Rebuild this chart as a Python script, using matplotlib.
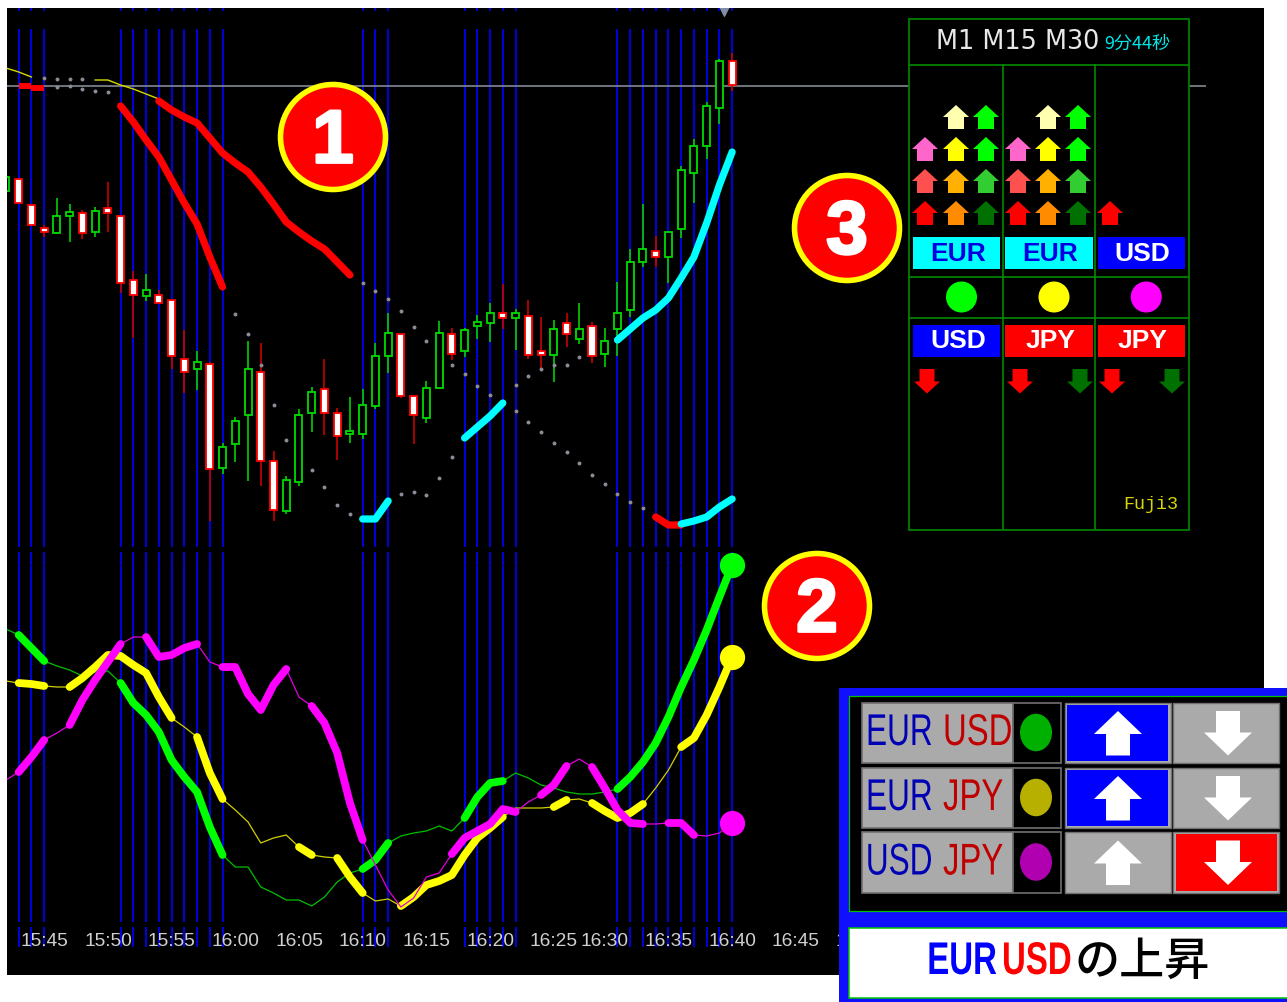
import matplotlib
matplotlib.use('Agg')
import matplotlib.pyplot as plt
import matplotlib.patheffects as pe
from matplotlib.patches import Circle, Ellipse, Polygon, Rectangle
from matplotlib.transforms import Affine2D

WIDTH, HEIGHT = 1287, 1002
BAR_X0, BAR_STEP = 18.7, 12.74

# Candles, in chart levels (small value = high on screen).
bars = list(range(-1, 57))
body_top = [177, 179, 205, 228, 216, 212, 213, 211, 208, 216, 280, 290, 295, 300, 359, 362, 364, 447, 421, 369,
            372, 461, 480, 415, 392, 389, 413, 431, 405, 356, 333, 334, 396, 388, 333, 334, 330, 322, 313, 313,
            313, 316, 351, 329, 323, 329, 326, 341, 313, 262, 249, 251, 232, 170, 146, 106, 61, 61]
body_bot = [191, 203, 225, 232, 233, 216, 233, 232, 213, 283, 295, 296, 303, 356, 372, 369, 469, 468, 444, 415,
            461, 510, 511, 482, 413, 413, 436, 434, 434, 406, 356, 396, 415, 418, 388, 354, 351, 326, 323, 318,
            318, 355, 355, 355, 334, 339, 356, 354, 329, 310, 262, 257, 257, 229, 173, 146, 108, 85]
wick_top = [177, 179, 205, 225, 198, 204, 210, 207, 182, 216, 271, 274, 290, 300, 330, 351, 362, 443, 417, 341,
            343, 451, 476, 409, 387, 359, 408, 397, 389, 343, 313, 334, 396, 381, 321, 328, 328, 315, 303, 284,
            309, 300, 317, 320, 313, 303, 322, 328, 282, 249, 204, 236, 232, 166, 139, 102, 59, 53]
wick_bot = [191, 203, 225, 237, 233, 242, 239, 237, 232, 293, 338, 301, 303, 369, 393, 390, 521, 474, 462, 481,
            486, 521, 514, 486, 432, 435, 460, 443, 439, 409, 373, 398, 444, 423, 388, 360, 357, 339, 342, 329,
            350, 359, 370, 382, 347, 344, 363, 367, 356, 317, 267, 267, 283, 238, 203, 159, 124, 91]
bullish = [1, 0, 0, 0, 1, 1, 0, 1, 0, 0, 0, 1, 0, 0, 0, 1, 0, 1, 1, 1,
           0, 0, 1, 1, 1, 0, 0, 1, 1, 1, 1, 0, 0, 1, 1, 0, 1, 1, 1, 0,
           1, 0, 0, 1, 0, 1, 0, 1, 1, 1, 1, 0, 1, 1, 1, 1, 1, 0]

# Blue marks on bars, gray level line
blue_bars = [0, 1, 2, 8, 9, 10, 11, 12, 13, 14, 15, 16, 27, 28, 29, 35, 36, 37, 38, 39,
             47, 48, 49, 50, 51, 52, 53, 54, 55, 56]
level_line = 85.5
level_line_end = 93.2
marker_bar = 55.4

# Overlay lines on the price window
yellow_a_bars = [-1, 0, 1]
yellow_a = [68, 72, 77]
yellow_b_bars = [6, 7, 8, 9, 10, 11]
yellow_b = [80, 80, 85, 89, 94, 99]
red_step_a_bars = [0, 1]
red_step_a = [85.5, 85.5]
red_step_b_bars = [1, 2]
red_step_b = [87.5, 87.5]
red_a_bars = list(range(8, 17))
red_a = [106, 122, 140, 157, 180, 203, 224, 257, 287]
red_b_bars = list(range(11, 27))
red_b = [101, 110, 117, 123, 138, 153, 163, 172, 187, 204, 222, 232, 241, 249, 262, 275]
red_c_bars = [50, 51, 52]
red_c = [517, 525, 525]
cyan_a_bars = [27, 28, 29]
cyan_a = [519, 519, 501]
cyan_b_bars = [35, 36, 37, 38]
cyan_b = [438, 427, 416, 403]
cyan_c_bars = list(range(47, 57))
cyan_c = [340, 329, 318, 310, 298, 278, 257, 223, 185, 152]
cyan_d_bars = [52, 53, 54, 55, 56]
cyan_d = [524, 521, 517, 507, 499]

# Gray dots on the price window
dot_bars = [2, 3, 4, 5, 3, 4, 5, 6, 7,
            17, 18, 19, 20, 21, 23, 24, 25, 26,
            27, 28, 29, 30, 31, 32, 34, 35, 36, 37, 38, 39, 40, 41, 42, 43, 44, 45, 46, 47, 48, 49,
            30, 31, 32, 33, 34,
            39, 40, 41, 42, 43, 44]
dot_levels = [78, 79, 79, 79, 87, 86, 89, 91, 92,
              314, 334, 365, 405, 440, 470, 487, 505, 514,
              283, 291, 299, 311, 327, 341, 365, 374, 386, 395, 403, 411, 422, 432, 443, 452, 463, 475, 484, 494,
              502, 508,
              494, 492, 495, 478, 457,
              385, 376, 369, 365, 365, 357]

# Strength lines on the lower window, bars 0 to 56 plus the cut off bar at the left
green_line = [629, 635, 648, 661, 666, 670, 676, 672, 671, 683, 703, 715, 732, 760, 777, 792, 827, 855, 867, 867,
              887, 893, 900, 900, 906, 897, 882, 873, 869, 860, 843, 836, 833, 831, 826, 831, 818, 797, 783, 781,
              773, 778, 785, 788, 792, 794, 794, 792, 789, 777, 762, 743, 717, 687, 660, 630, 597, 565]
yellow_line = [681, 683, 684, 686, 687, 687, 678, 667, 655, 656, 665, 673, 697, 718, 727, 737, 773, 799, 810, 822,
               843, 838, 835, 847, 855, 857, 858, 877, 893, 901, 899, 906, 897, 885, 881, 875, 855, 838, 828, 817,
               808, 808, 808, 807, 800, 799, 803, 811, 818, 813, 804, 788, 770, 747, 738, 715, 687, 657]
magenta_line = [780, 772, 757, 740, 733, 725, 700, 680, 662, 644, 637, 637, 657, 655, 648, 644, 662, 667, 667, 694,
                710, 685, 669, 697, 706, 723, 753, 803, 840, 865, 890, 907, 898, 877, 873, 854, 838, 831, 824, 809,
                812, 802, 795, 785, 766, 759, 767, 788, 810, 823, 824, 824, 823, 823, 835, 836, 833, 823]
green_thick = [(0, 2), (8, 16), (27, 29), (35, 38), (47, 56)]
yellow_thick = [(0, 2), (4, 12), (14, 16), (22, 23), (25, 27), (30, 38), (42, 43), (45, 49), (52, 56)]
magenta_thick = [(0, 2), (4, 8), (10, 14), (16, 21), (23, 27), (34, 39), (41, 43), (45, 49), (51, 53)]

# Time axis
time_bars = [2, 7, 12, 17, 22, 27, 32, 37, 42, 46, 51, 56, 61, 66]
time_labels = ['15:45', '15:50', '15:55', '16:00', '16:05', '16:10', '16:15', '16:20', '16:25', '16:30', '16:35',
               '16:40', '16:45', '16:50']

# Upper right table
up_arrows = [(956, 105, '#ffffb0'), (986, 105, '#00ff00'), (1048, 105, '#ffffb0'), (1078, 105, '#00ff00'),
             (925, 137, '#ff66cc'), (956, 137, '#ffff00'), (986, 137, '#00ff00'),
             (1018, 137, '#ff66cc'), (1048, 137, '#ffff00'), (1078, 137, '#00ff00'),
             (925, 169, '#ff5050'), (956, 169, '#ffb000'), (986, 169, '#32cd32'),
             (1018, 169, '#ff5050'), (1048, 169, '#ffb000'), (1078, 169, '#32cd32'),
             (925, 201, '#ff0000'), (956, 201, '#ff8c00'), (986, 201, '#007000'),
             (1018, 201, '#ff0000'), (1048, 201, '#ff8c00'), (1078, 201, '#007000'), (1110, 201, '#ff0000')]
down_arrows = [(927, '#ff0000'), (1020, '#ff0000'), (1080, '#007000'), (1112, '#ff0000'), (1172, '#007000')]
table_cols = [(913, 1000), (1005, 1093), (1097.5, 1185)]
base_names = ['EUR', 'EUR', 'USD']
base_faces = ['#00ffff', '#00ffff', '#0000ff']
base_texts = ['#0000e0', '#0000e0', '#ffffff']
quote_names = ['USD', 'JPY', 'JPY']
quote_faces = ['#0000ff', '#ff0000', '#ff0000']
table_dots = ['#00ff00', '#ffff00', '#ff00ff']

# Lower right panel
pair_base = ['EUR', 'EUR', 'USD']
pair_quote = ['USD', 'JPY', 'JPY']
pair_dots = ['#00b000', '#b8b000', '#b000b0']
pair_rows = [(702, 763), (767, 828), (831, 893)]
up_on = [True, True, False]
down_on = [False, False, True]

badges = [('1', 333, 137), ('2', 817, 606), ('3', 847, 228)]


class Squeeze(pe.AbstractPathEffect):
    """Narrow a text sideways around x0 (display pixels), the fonts here have no condensed face."""

    def __init__(self, x0, factor):
        super().__init__()
        self.x0 = x0
        self.factor = factor

    def draw_path(self, renderer, gc, tpath, affine, rgbFace=None):
        squeezed = affine + Affine2D().translate(-self.x0, 0).scale(self.factor, 1).translate(self.x0, 0)
        renderer.draw_path(gc, tpath, squeezed, rgbFace)


fig = plt.figure(figsize=(WIDTH / 100, HEIGHT / 100), dpi=100, facecolor='white')

# Chart window, x in bars
ax = fig.add_axes([7 / WIDTH, 1 - 975 / HEIGHT, (1264 - 7) / WIDTH, (975 - 8) / HEIGHT], facecolor='black')
ax.set_xlim((7 - BAR_X0) / BAR_STEP, (1264 - BAR_X0) / BAR_STEP)
ax.set_ylim(975, 8)
for spine in ax.spines.values():
    spine.set_visible(False)
ax.set_yticks([])
ax.set_xticks(time_bars, time_labels, fontfamily='Liberation Sans', fontsize=13.8, color='#d0d0d0')
ax.tick_params(axis='x', length=0, direction='in', pad=-30.5)

for y0, y1 in [(8, 11), (29, 547), (552, 922), (927, 947)]:
    ax.vlines(blue_bars, y0, y1, color='#0000f0', linewidth=1.3, zorder=1)
ax.hlines(565, ax.get_xlim()[0], ax.get_xlim()[1], color='black', linewidth=0.7, linestyle=':', zorder=1.5)
ax.hlines(level_line, ax.get_xlim()[0], level_line_end, color='#828a92', linewidth=1.2, zorder=1.6)
ax.scatter([marker_bar], [9], marker='v', s=95, color='#8090a8', zorder=2, clip_on=True)

# Candles
for i, bar in enumerate(bars):
    if bullish[i]:
        edge, face, wick = '#00dc00', 'black', '#00d000'
    else:
        edge, face, wick = '#ff0000', 'white', '#c80000'
    ax.vlines(bar, wick_top[i], wick_bot[i], color=wick, linewidth=1.2, zorder=2)
    ax.bar(bar, body_bot[i] - body_top[i], bottom=body_top[i], width=0.55, facecolor=face, edgecolor=edge,
           linewidth=1.3, zorder=3)

ax.scatter(dot_bars, dot_levels, s=8, color='#8c8c98', linewidths=0, zorder=4)

ax.plot(yellow_a_bars, yellow_a, color='#d8d800', linewidth=1, zorder=4)
ax.plot(yellow_b_bars, yellow_b, color='#d8d800', linewidth=1, zorder=4)
ax.plot(red_step_a_bars, red_step_a, color='#ff0000', linewidth=4.3, solid_capstyle='butt', zorder=5)
ax.plot(red_step_b_bars, red_step_b, color='#ff0000', linewidth=4.3, solid_capstyle='butt', zorder=5)
for xs, ys, col in [(red_a_bars, red_a, '#ff0000'), (red_b_bars, red_b, '#ff0000'), (red_c_bars, red_c, '#ff0000'),
                    (cyan_a_bars, cyan_a, '#00ffff'), (cyan_b_bars, cyan_b, '#00ffff'),
                    (cyan_c_bars, cyan_c, '#00ffff'), (cyan_d_bars, cyan_d, '#00ffff')]:
    ax.plot(xs, ys, color=col, linewidth=5.2, solid_capstyle='round', solid_joinstyle='round', zorder=5)

# Lower window, thin line first and thick pieces on top
for line, thick, col, z in [(green_line, green_thick, '#00ff00', 6), (yellow_line, yellow_thick, '#ffff00', 7),
                            (magenta_line, magenta_thick, '#ff00ff', 8)]:
    thin_col = {'#00ff00': '#00c000', '#ffff00': '#d0d000', '#ff00ff': '#e000e0'}[col]
    ax.plot(bars, line, color=thin_col, linewidth=0.9, zorder=z)
    for start, end in thick:
        ax.plot(bars[start + 1:end + 2], line[start + 1:end + 2], color=col, linewidth=5.6, solid_capstyle='round',
                solid_joinstyle='round', zorder=z)
    ax.scatter(bars[-1], line[-1], s=330, color=col, linewidths=0, zorder=z + 2)

# Overlay in picture pixels for the panels and badges
px = fig.add_axes([0, 0, 1, 1], facecolor='none', zorder=5)
px.set_xlim(0, WIDTH)
px.set_ylim(HEIGHT, 0)
px.axis('off')


def box(x0, y0, x1, y1, face, edge='none', lw=0, z=1):
    px.add_patch(Rectangle((x0, y0), x1 - x0, y1 - y0, facecolor=face, edgecolor=edge, linewidth=lw, zorder=z))


def arrow(cx, top, w, h, shaft, head, color, up=True, z=3):
    # head is the height of the triangle part of the arrow
    if up:
        pts = [(cx, top), (cx + w / 2, top + head), (cx + shaft / 2, top + head), (cx + shaft / 2, top + h),
               (cx - shaft / 2, top + h), (cx - shaft / 2, top + head), (cx - w / 2, top + head)]
    else:
        bot = top + h
        pts = [(cx, bot), (cx + w / 2, bot - head), (cx + shaft / 2, bot - head), (cx + shaft / 2, top),
               (cx - shaft / 2, top), (cx - shaft / 2, bot - head), (cx - w / 2, bot - head)]
    px.add_patch(Polygon(pts, closed=True, facecolor=color, edgecolor='none', zorder=z))


def narrow_text(x, y, s, color, size, factor, weight='normal', ha='left'):
    # x is the fixed edge of the text, the other edge is pulled towards it
    px.text(x, y, s, color=color, fontsize=size, family='Liberation Sans', weight=weight, ha=ha, va='center',
            zorder=4, path_effects=[Squeeze(x, factor)])


# Upper right table
GRID = '#007f00'
box(908.5, 19, 1189, 529.5, 'black', GRID, 1.3)
for y in [64.5, 276.5, 318]:
    px.plot([908.5, 1189], [y, y], color=GRID, linewidth=1.3, zorder=2)
for x in [1003, 1095]:
    px.plot([x, x], [64.5, 529.5], color=GRID, linewidth=1.3, zorder=2)
px.text(936, 42, 'M1 M15 M30', color='#e8e8e8', fontsize=18.4, family='DejaVu Sans', va='center', ha='left', zorder=4)
px.text(1104, 43.5, '9分44秒', color='#00e8e8', fontsize=13, family=['Noto Sans CJK JP', 'DejaVu Sans'],
        va='center', ha='left', zorder=4)
for cx, top, col in up_arrows:
    arrow(cx, top, 26, 24, 16, 12, col)
for cx, col in down_arrows:
    arrow(cx, 369, 26, 24.5, 15, 12, col, up=False)
for i, (x0, x1) in enumerate(table_cols):
    box(x0, 237, x1, 269, base_faces[i], z=3)
    px.text((x0 + x1) / 2 + 1.5, 254, base_names[i], color=base_texts[i], fontsize=19, weight='bold',
            family='Liberation Sans', ha='center', va='center', zorder=4)
    box(x0, 325, x1, 357, quote_faces[i], z=3)
    px.text((x0 + x1) / 2 + 1.5, 341, quote_names[i], color='white', fontsize=19, weight='bold',
            family='Liberation Sans', ha='center', va='center', zorder=4)
    px.add_patch(Circle(((x0 + x1) / 2 + 5, 297), 15.5, facecolor=table_dots[i], edgecolor='none', zorder=3))
px.text(1123, 504.5, 'Fuji3', color='#d8d800', fontsize=13.2, family='Liberation Mono', ha='left', va='center',
        zorder=4)

# Lower right panel
box(839, 688, WIDTH, HEIGHT, '#1010ff', z=1)
box(849, 695.5, WIDTH + 5, 911, 'black', '#00c000', 0.9, z=2)
box(849, 928, WIDTH + 5, 998, 'white', '#00c800', 1.1, z=2)
for i, (y0, y1) in enumerate(pair_rows):
    mid = (y0 + y1) / 2
    box(861.5, y0 + 0.5, 1013, y1 - 0.5, '#aaaaaa', '#707070', 1.2, z=3)
    box(1013, y0 + 0.5, 1060.5, y1 - 0.5, 'black', '#707070', 1.2, z=3)
    px.add_patch(Ellipse((1036, mid), 32, 37.5, facecolor=pair_dots[i], edgecolor='none', zorder=4))
    narrow_text(932.5, mid + 1, pair_base[i], '#0000b4', 32, 0.71, ha='right')
    narrow_text(943, mid + 1, pair_quote[i], '#c00000', 32, 0.74)
    # up button
    box(1064.5, y0 + 0.5, 1170.5, y1 - 0.5, '#aaaaaa', '#707070', 1.0, z=3)
    if up_on[i]:
        box(1067, y0 + 2.5, 1168, y1 - 2.5, '#0000ff', z=3.5)
    arrow(1118, mid - 21.5, 48, 44.5, 24, 23, 'white', z=4)
    # down button
    box(1173, y0 + 0.5, 1279, y1 - 0.5, '#aaaaaa', '#707070', 1.0, z=3)
    if down_on[i]:
        box(1176, y0 + 2.5, 1276.5, y1 - 2.5, '#ff0000', z=3.5)
    arrow(1228, mid - 21.5, 48, 44.5, 24, 23, 'white', up=False, z=4)

narrow_text(997, 962, 'EUR', '#0000ff', 33, 0.72, weight='bold', ha='right')
narrow_text(1002, 962, 'USD', '#ff0000', 33, 0.72, weight='bold')
px.text(1075, 961, 'の上昇', color='black', fontsize=32.5, weight='medium', family=['Noto Sans CJK JP', 'DejaVu Sans'],
        ha='left', va='center', zorder=4)

# Numbered badges
for label, cx, cy in badges:
    px.add_patch(Circle((cx, cy), 52.5, facecolor='#ff0000', edgecolor='#ffff00', linewidth=4, zorder=6))
    px.text(cx, cy + 6, label, color='white', fontsize=54, weight='bold', family='Liberation Sans', ha='center',
            va='center', zorder=7, path_effects=[pe.withStroke(linewidth=2, foreground='white')])

fig.savefig('out.png', dpi=100, facecolor='white')
